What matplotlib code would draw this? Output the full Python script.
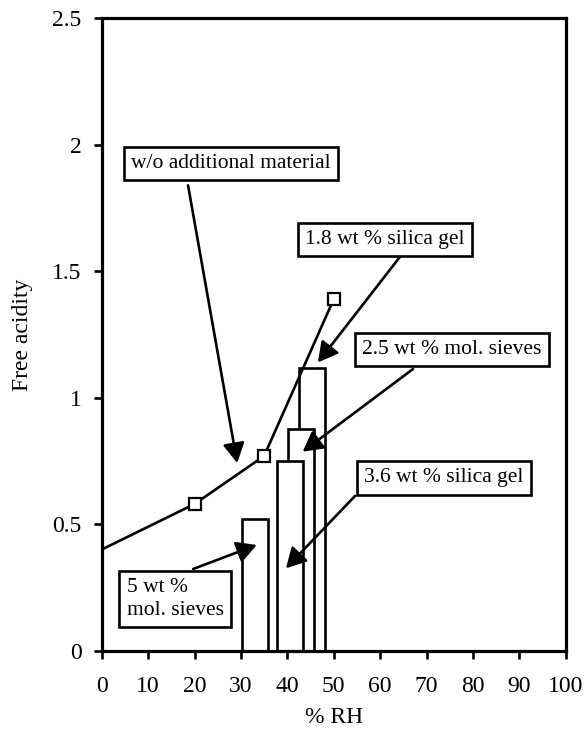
import matplotlib
matplotlib.use("Agg")
import matplotlib.pyplot as plt

plt.rcParams['font.family'] = ['Liberation Serif', 'DejaVu Serif']

# line without additional material
rh_line = [0, 20, 35, 50]
acid_line = [0.40, 0.58, 0.77, 1.39]

# bars (drawn back to front)
bar_rh = [45.4, 43.0, 40.5, 33.0]
bar_acid = [1.117, 0.875, 0.75, 0.52]
bar_width = 5.6

x_ticks = list(range(0, 101, 10))
y_ticks = [0, 0.5, 1, 1.5, 2, 2.5]
y_tick_labels = ['0', '0.5', '1', '1.5', '2', '2.5']

# annotation labels: text, box centre, arrow start, arrow tip
labels = ['w/o additional material', '1.8 wt % silica gel', '2.5 wt % mol. sieves',
          '3.6 wt % silica gel', '5 wt %\nmol. sieves']
label_pos = [(27.9, 1.925), (61.1, 1.627), (75.5, 1.191), (73.8, 0.683), (15.8, 0.204)]
arrow_from = [(18.6, 1.84), (64.3, 1.558), (67.1, 1.114), (54.6, 0.612), (19.7, 0.323)]
arrow_to = [(29.2, 0.742), (46.6, 1.14), (43.3, 0.787), (39.7, 0.326), (33.4, 0.418)]

fs = 15.5
fs_ax = 17
lw = 1.9

fig = plt.figure(figsize=(5.87, 7.32), dpi=100)
ax = fig.add_axes([0.1733, 0.1111, 0.7905, 0.8637])

for i, (x, h) in enumerate(zip(bar_rh, bar_acid)):
    ax.bar(x, h, width=bar_width, color='white', edgecolor='black', linewidth=lw, zorder=2 + i * 0.1)

ax.plot(rh_line, acid_line, color='black', linewidth=lw, marker='s', markersize=9,
        markerfacecolor='white', markeredgecolor='black', markeredgewidth=1.6,
        markevery=[1, 2, 3], zorder=4)

for start, tip in zip(arrow_from, arrow_to):
    ax.annotate('', xy=tip, xytext=start,
                arrowprops=dict(arrowstyle='-|>,head_length=0.6,head_width=0.33',
                                color='black', lw=lw, mutation_scale=20,
                                shrinkA=0, shrinkB=0), zorder=5)

for txt, (x, y) in zip(labels, label_pos):
    ax.text(x, y, txt, fontsize=fs, ha='center', va='center', multialignment='left',
            linespacing=1.25, zorder=6,
            bbox=dict(boxstyle='square,pad=0.33', facecolor='white', edgecolor='black', linewidth=lw))

ax.set_xlim(0, 100)
ax.set_ylim(0, 2.5)
ax.set_xticks(x_ticks)
ax.set_yticks(y_ticks)
ax.set_yticklabels(y_tick_labels)
ax.tick_params(direction='out', length=5.5, width=lw, labelsize=fs_ax)
ax.tick_params(axis='x', pad=13)
ax.tick_params(axis='y', pad=9)
for s in ax.spines.values():
    s.set_linewidth(2.3)

ax.set_xlabel('% RH', fontsize=fs_ax, labelpad=7)
ax.set_ylabel('Free acidity', fontsize=fs_ax, labelpad=14)

fig.savefig('out.png', dpi=100)
